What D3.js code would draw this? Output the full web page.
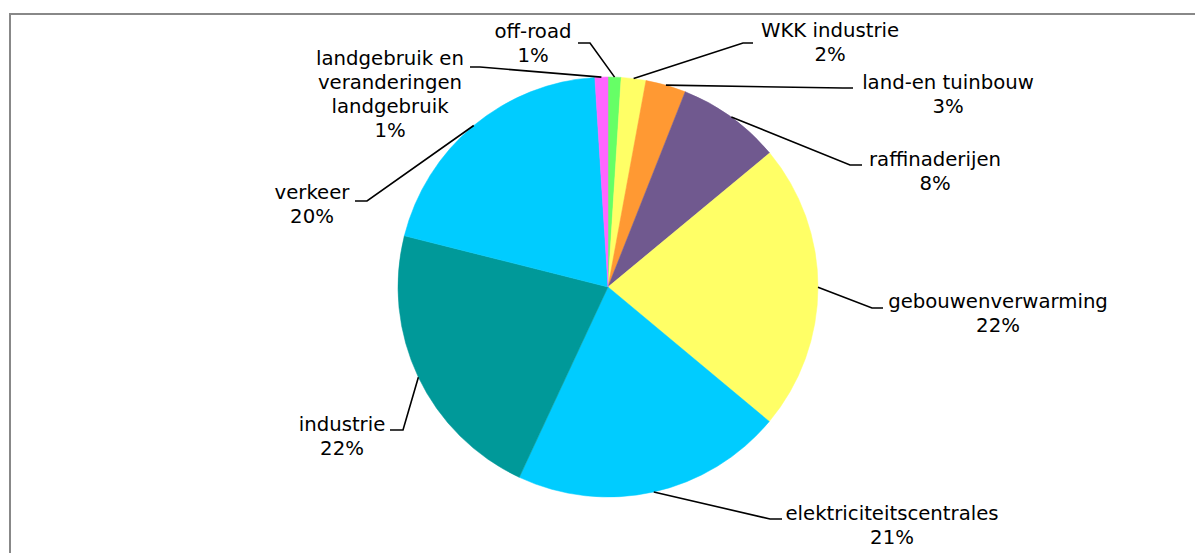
<!DOCTYPE html>
<html>
<head>
<meta charset="utf-8">
<script src="https://cdn.jsdelivr.net/npm/d3@7"></script>
<style>
  html, body { margin: 0; padding: 0; background: #fff; }
  svg { display: block; }
  text { font-family: "DejaVu Sans", Verdana, sans-serif; font-size: 19.7px; fill: #000; }
</style>
</head>
<body>
<svg id="chart" width="1195" height="553"></svg>
<script>
// Emission shares by sector, clockwise from 12 o'clock
const categories = [
  "off-road",
  "WKK industrie",
  "land-en tuinbouw",
  "raffinaderijen",
  "gebouwenverwarming",
  "elektriciteitscentrales",
  "industrie",
  "verkeer",
  "landgebruik en veranderingen landgebruik"
];
const shares = [1.0, 1.9, 3.1, 8.0, 22.1, 20.9, 22.0, 20.1, 1.0];
const labelLines = [
  ["off-road"],
  ["WKK industrie"],
  ["land-en tuinbouw"],
  ["raffinaderijen"],
  ["gebouwenverwarming"],
  ["elektriciteitscentrales"],
  ["industrie"],
  ["verkeer"],
  ["landgebruik en", "veranderingen", "landgebruik"]
];
const colors = ["#66ff66", "#ffff66", "#ff9933", "#70598f", "#ffff66",
                "#00ccff", "#009999", "#00ccff", "#ff66ff"];

// Label placement: text centre x, first baseline y, elbow point of leader, end of leader
const layout = [
  { tx: 533, ty: 38,  elbow: [590, 43],  end: [578, 43] },
  { tx: 830, ty: 37,  elbow: [743, 43],  end: [753, 43] },
  { tx: 948, ty: 89,  elbow: [843, 88],  end: [853, 88] },
  { tx: 935, ty: 166, elbow: [850, 165], end: [862, 165] },
  { tx: 998, ty: 308, elbow: [872, 308], end: [883, 308] },
  { tx: 892, ty: 520, elbow: [770, 519], end: [782, 519] },
  { tx: 342, ty: 431, elbow: [403, 430], end: [390, 430] },
  { tx: 312, ty: 199, elbow: [367, 201], end: [355, 201] },
  { tx: 390, ty: 65,  elbow: [480, 67],  end: [470, 67] }
];

const svg = d3.select("#chart");
const cx = 608, cy = 287, r = 210;
const lineH = 24;

// Frame
svg.append("rect")
  .attr("x", 10).attr("y", 14)
  .attr("width", 1300).attr("height", 700)
  .attr("fill", "none")
  .attr("stroke", "#888")
  .attr("stroke-width", 2);

const data = categories.map((c, i) => ({ name: c, value: shares[i], color: colors[i], lines: labelLines[i], lay: layout[i] }));
const total = d3.sum(shares);

const pie = d3.pie().value(d => d.value).sort(null).startAngle(0).endAngle(2 * Math.PI);
const arcs = pie(data);
const arc = d3.arc().innerRadius(0).outerRadius(r);

const g = svg.append("g").attr("transform", `translate(${cx},${cy})`);

g.selectAll("path.slice")
  .data(arcs)
  .join("path")
  .attr("class", "slice")
  .attr("d", arc)
  .attr("fill", d => d.data.color)
  .attr("stroke", d => d.data.color)
  .attr("stroke-width", 0.5);

// Leader lines from the slice's outer edge at its mid angle
const leaders = svg.append("g");
arcs.forEach(a => {
  const mid = (a.startAngle + a.endAngle) / 2;
  const sx = cx + r * Math.sin(mid);
  const sy = cy - r * Math.cos(mid);
  const L = a.data.lay;
  leaders.append("polyline")
    .attr("points", [[sx, sy], L.elbow, L.end].map(p => p.join(",")).join(" "))
    .attr("fill", "none")
    .attr("stroke", "#000")
    .attr("stroke-width", 1.6);
});

// Labels: category name plus rounded percentage
const labels = svg.append("g");
arcs.forEach(a => {
  const L = a.data.lay;
  const pct = Math.round(a.data.value / total * 100) + "%";
  const lines = a.data.lines.concat([pct]);
  const t = labels.append("text").attr("text-anchor", "middle");
  lines.forEach((s, k) => {
    t.append("tspan").attr("x", L.tx).attr("y", L.ty + k * lineH).text(s);
  });
});
</script>
</body>
</html>
